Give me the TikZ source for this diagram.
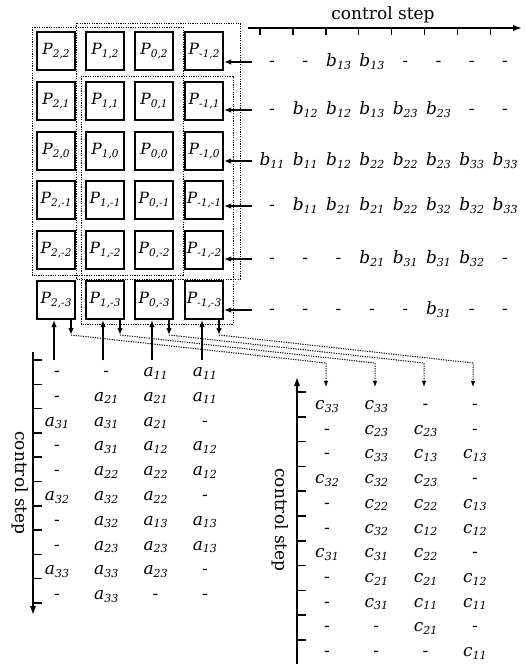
\documentclass[tikz,border=0pt]{standalone}
\usepackage{fontspec}
\setmainfont{DejaVu Serif}
\usetikzlibrary{arrows.meta}
\newcommand\lbl[2]{\textit{#1}\raisebox{-0.3ex}{\fontsize{11}{11}\selectfont\itshape #2}}
\newcommand\Plab[1]{\textit{P}\raisebox{-0.3ex}{\fontsize{10.5}{10.5}\selectfont\itshape #1}}
\newcommand\entry[2]{\ifnum#2=0 -\else\lbl{#1}{#2}\fi}
\begin{document}
\begin{tikzpicture}[x=1pt,y=-1pt,
 box/.style={draw,line width=2pt,minimum width=38pt,minimum height=38pt,inner sep=0pt,font=\fontsize{15.5}{15.5}\selectfont},
 grp/.style={draw,line width=1pt,dash pattern=on 1.2pt off 1.2pt},
 arr/.style={line width=1.7pt,-{Latex[length=7pt,width=5.5pt]}},
 darr/.style={line width=1pt,dash pattern=on 1.2pt off 1.2pt,-{Latex[length=6pt,width=4.5pt]}},
 axis/.style={line width=1.5pt,-{Latex[length=9pt,width=6.5pt]}},
 tick/.style={line width=1.5pt},
 val/.style={inner sep=0pt,text height=12pt,text depth=3pt,font=\fontsize{17}{17}\selectfont},
 axlab/.style={inner sep=0pt,font=\fontsize{17}{17}\selectfont}]
\useasboundingbox (0,0) rectangle (525,664);

% processor boxes
\foreach \c/\x/\i in {1/56/2,2/105/1,3/154/0,4/204/-1}
 \foreach \r/\y/\j in {1/51/2,2/101/1,3/151/0,4/200/-1,5/250/-2,6/300/-3}
  \node[box] (p\c\r) at (\x,\y) {\Plab{\i,\j}};

% dotted groups
\draw[grp] ([shift={(-4,-4)}]p11.north west) rectangle ([shift={(9,5)}]p35.south east);
\draw[grp] ([shift={(-9,-8)}]p21.north west) rectangle ([shift={(16,9)}]p45.south east);
\draw[grp] ([shift={(-4,-5)}]p22.north west) rectangle ([shift={(9,4)}]p46.south east);

% top axis
\coordinate (tS) at (248,28);
\coordinate (tE) at (522,28);
\draw[axis] (tS) -- (tE);
\foreach \k in {0,...,7} \draw[tick] (260+32.9*\k,28) -- ++(0,7);
\node[axlab] (tlab) at (383,15) {control step};

% b inputs
\foreach \r/\y/\row in {1/62/{0,0,13,13,0,0,0,0},
                        2/110/{0,12,12,13,23,23,0,0},
                        3/161/{11,11,12,22,22,23,33,33},
                        4/206/{0,11,21,21,22,32,32,33},
                        5/259/{0,0,0,21,31,31,32,0},
                        6/310/{0,0,0,0,0,31,0,0}}{
  \coordinate (bin\r) at (252,\y);
  \draw[arr] (bin\r) -- (bin\r -| p4\r.east);
  \foreach \val [count=\k] in \row
    \node[val] (bt-\r-\k) at (272+33.3*\k-33.3,\y) {\entry{b}{\val}};
}

% a inputs and outputs
\foreach \c/\x in {1/56,2/105,3/154,4/204}{
  \coordinate (up\c) at (\x-2,360);
  \draw[arr] (up\c) -- (up\c |- p\c6.south);
  \coordinate (dn\c) at (\x+15,335);
  \draw[arr] (dn\c |- p\c6.south) -- (dn\c);
}
\coordinate (aT) at (33,352);
\coordinate (aB) at (33,615);
\draw[axis] (aT) -- (aB);
\foreach \k in {0,...,10} \draw[tick] (33,360+24.3*\k) -- ++(9,0);
\node[axlab,rotate=-90] (alab) at (20,483) {control step};
\foreach \r/\row in {1/{0,0,11,11},2/{0,21,21,11},3/{31,31,21,0},4/{0,31,12,12},
                     5/{0,22,22,12},6/{32,32,22,0},7/{0,32,13,13},8/{0,23,23,13},
                     9/{33,33,23,0},10/{0,33,0,0}}
  \foreach \val [count=\k] in \row
    \node[val] (at-\r-\k) at (57+49.3*\k-49.3,372+24.8*\r-24.8) {\entry{a}{\val}};

% c outputs
\foreach \c/\xc in {1/326,2/375,3/424,4/473}{
  \coordinate (bend\c) at (\xc,363);
  \coordinate (cin\c) at (\xc,387);
  \draw[darr] (dn\c) -- (bend\c) -- (cin\c);
}
\coordinate (cB) at (297,664);
\coordinate (cT) at (297,377);
\draw[axis] (cB) -- (cT);
\foreach \k in {0,...,10} \draw[tick] (297,392+24.8*\k) -- ++(9,0);
\node[axlab,rotate=-90] (clab) at (280,520) {control step};
\foreach \r/\row in {1/{33,33,0,0},2/{0,23,23,0},3/{0,33,13,13},4/{32,32,23,0},
                     5/{0,22,22,13},6/{0,32,12,12},7/{31,31,22,0},8/{0,21,21,12},
                     9/{0,31,11,11},10/{0,0,21,0},11/{0,0,0,11}}
  \foreach \val [count=\k] in \row
    \node[val] (ct-\r-\k) at (327+49.3*\k-49.3,405+24.7*\r-24.7) {\entry{c}{\val}};
\end{tikzpicture}
\end{document}
